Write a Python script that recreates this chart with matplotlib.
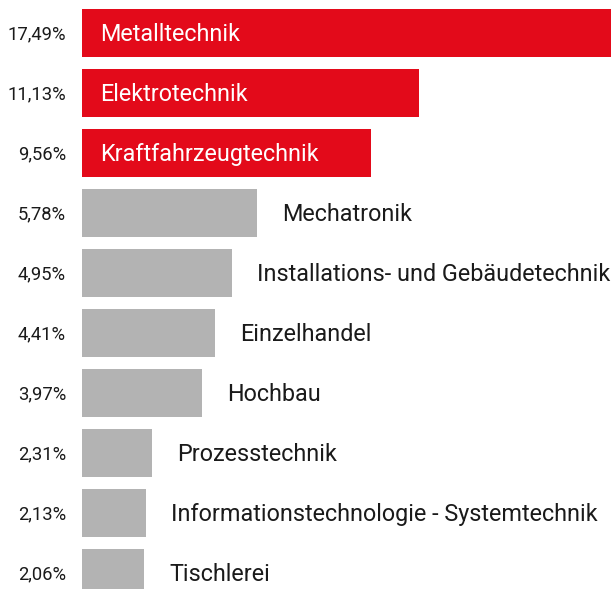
import matplotlib.pyplot as plt

categories = [
    "Metalltechnik",
    "Elektrotechnik",
    "Kraftfahrzeugtechnik",
    "Mechatronik",
    "Installations- und Gebäudetechnik",
    "Einzelhandel",
    "Hochbau",
    "Prozesstechnik",
    "Informationstechnologie - Systemtechnik",
    "Tischlerei",
]
shares = [17.49, 11.13, 9.56, 5.78, 4.95, 4.41, 3.97, 2.31, 2.13, 2.06]
highlight = [True, True, True, False, False, False, False, False, False, False]

RED = "#E30A1A"
GREY = "#B3B3B3"

plt.rcParams["font.family"] = ["Roboto", "DejaVu Sans"]

fig = plt.figure(figsize=(6.11, 5.89), dpi=100)
ax = fig.add_axes([82 / 611, 0, 529 / 611, 1])

px = 17.49 / 529  # data units per pixel along x
y = list(range(len(categories)))
colors = [RED if h else GREY for h in highlight]
ax.barh(y, shares, height=0.8, color=colors, left=0)

for i, (cat, val, hi) in enumerate(zip(categories, shares, highlight)):
    if hi:
        ax.text(18 * px, i + 0.02, cat, color="white", fontsize=16.8, va="center", ha="left")
    else:
        ax.text(val + 25 * px, i + 0.02, cat, color="#1a1a1a", fontsize=16.8, va="center", ha="left")
    ax.text(-16 * px, i + 0.02, f"{val:.2f}".replace(".", ",") + "%", color="#1a1a1a",
            fontsize=13.2, va="center", ha="right", clip_on=False)

ax.set_xlim(0, 17.49)
ax.set_ylim(-0.55 + 589 / 60, -0.55)
ax.axis("off")

fig.savefig("out.png", dpi=100)
